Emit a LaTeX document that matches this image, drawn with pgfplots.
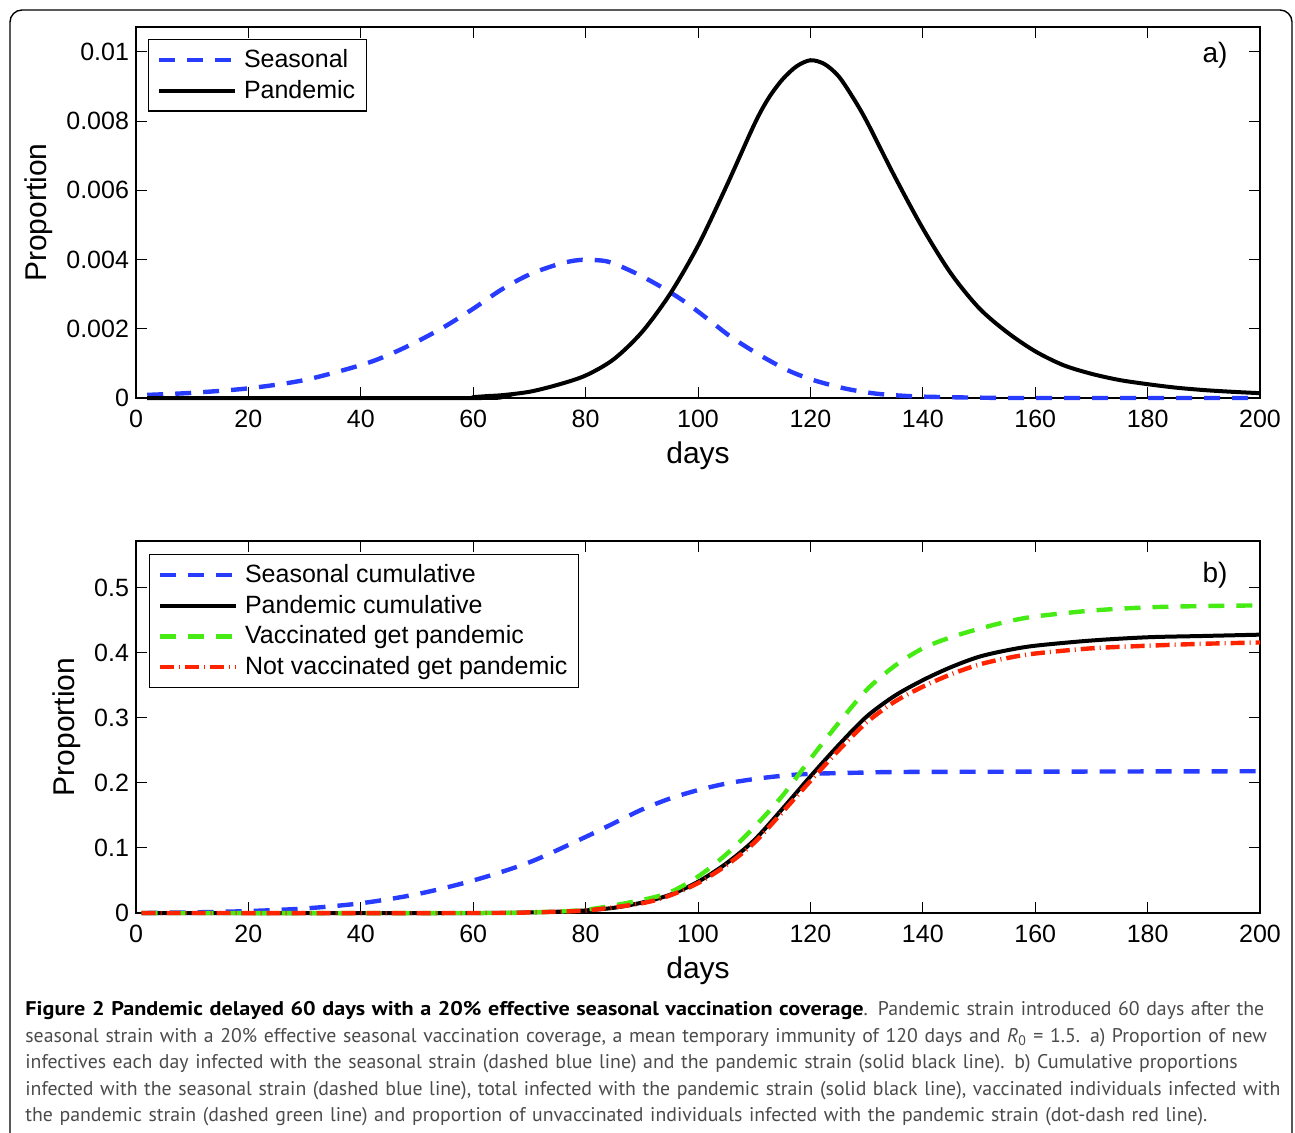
\documentclass[border=0pt]{standalone}
\usepackage{pgfplots}
\pgfplotsset{compat=1.18}
\usepackage{fontspec}
\setmainfont{Liberation Sans}
\newfontfamily\capfont{PT Sans}

\definecolor{mblue}{RGB}{40,60,255}
\definecolor{mgreen}{RGB}{70,235,20}
\definecolor{mred}{RGB}{255,35,0}
\definecolor{capgray}{RGB}{75,75,75}

\pgfplotsset{
  panel/.style={
    scale only axis, width=562pt,
    xmin=0, xmax=200,
    xtick={0,20,...,200},
    xticklabels={0,20,40,60,80,100,120,140,160,180,200},
    scaled y ticks=false,
    tick align=inside, tick pos=both, major tick length=5.5pt,
    axis line style={line width=0.8pt},
    every tick/.style={black, line width=0.5pt},
    tick label style={font=\fontsize{12.5}{15}\selectfont},
    xticklabel style={yshift=-2.5pt},
    label style={font=\fontsize{15}{18}\selectfont},
    xlabel={days}, ylabel={Proportion},
    clip=false,
    legend cell align=left,
    legend style={draw=black, line width=0.6pt, fill=white, anchor=north west,
      font=\fontsize{12.5}{15}\selectfont,
      inner xsep=4pt, inner ysep=2.5pt, nodes={inner xsep=1.5pt, inner ysep=2.4pt}, column sep=2pt},
    legend image code/.code={\draw[##1] (0pt,0pt) -- (38pt,0pt);},
  },
  seas/.style={mblue, line width=2.2pt, dash pattern=on 8pt off 6pt, smooth},
  pand/.style={black, line width=2pt, smooth},
  vacc/.style={mgreen, line width=2.2pt, dash pattern=on 8pt off 6pt, smooth},
  novacc/.style={mred, line width=2.2pt, dash pattern=on 7pt off 2.5pt on 0.5pt off 2.5pt, smooth},
}

\begin{document}
\begin{tikzpicture}
\begin{scope}[x=0.5pt, y=-0.5pt]
  \path[use as bounding box] (0,0) rectangle (1295,1132);
  \draw[line width=0.7pt, rounded corners=6pt] (10,1150) -- (10,10) -- (1292,10) -- (1292,1150);
  \node[anchor=north west, inner sep=0pt, text width=630pt, align=left,
        font=\capfont\fontsize{9.9}{13.25}\selectfont, text=capgray] at (25,1001)
  {{\color{black}\bfseries\addfontfeature{FakeStretch=1.12}Figure 2 Pandemic delayed 60 days with a 20\% effective seasonal vaccination coverage}. Pandemic strain introduced 60 days after the\\
  seasonal strain with a 20\% effective seasonal vaccination coverage, a mean temporary immunity of 120 days and {\itshape R}\textsubscript{0} = 1.5. a) Proportion of new\\
  infectives each day infected with the seasonal strain (dashed blue line) and the pandemic strain (solid black line). b) Cumulative proportions\\
  infected with the seasonal strain (dashed blue line), total infected with the pandemic strain (solid black line), vaccinated individuals infected with\\
  the pandemic strain (dashed green line) and proportion of unvaccinated individuals infected with the pandemic strain (dot-dash red line).};
\end{scope}

% a) new infectives per day
\begin{axis}[panel, at={(68pt,-199pt)}, anchor=south west, height=185.5pt,
    ymin=0, ymax=0.01072,
    ytick={0,0.002,0.004,0.006,0.008,0.01},
    yticklabels={0,0.002,0.004,0.006,0.008,0.01},
    legend style={at={(0.0107,0.968)}}]
\addplot[seas] coordinates {
 (2,0.00009) (10,0.00015) (20,0.00028) (30,0.00052) (40,0.00095) (45,0.00125)
 (50,0.00163) (55,0.00207) (60,0.00258) (65,0.00313) (70,0.00357) (75,0.00386)
 (78,0.00397) (80,0.00399) (84,0.00394) (89,0.0036) (94,0.00316) (98,0.00274)
 (102,0.00225) (106,0.00175) (111,0.00124) (116,0.0008) (120.5,0.00052)
 (126,0.00028) (131,0.00014) (135,0.00008) (140,0.00004) (150,0.00001)
 (160,0) (200,0)
};
\addplot[pand] coordinates {
 (2,0) (61,0) (62,0.00005) (65,0.00008) (70,0.00018) (75,0.00038) (80,0.00065)
 (85,0.00112) (90,0.0019) (95,0.0030) (100,0.0044) (105,0.0061) (110,0.0079)
 (112.5,0.00865) (115,0.0092) (117.5,0.00958) (120,0.00976) (122.5,0.00965)
 (125,0.0093) (127.5,0.0087) (130,0.0080) (135,0.0064) (140,0.0049)
 (145,0.0036) (150,0.0026) (155,0.0019) (160,0.00135) (165,0.00095)
 (170,0.0007) (175,0.00052) (180,0.0004) (185,0.0003) (190,0.00023)
 (195,0.00018) (200,0.00014)
};
\legend{Seasonal, Pandemic}
\node[font=\fontsize{14}{16}\selectfont] at (rel axis cs:0.96,0.925) {a)};
\end{axis}

% b) cumulative proportions
\begin{axis}[panel, at={(68pt,-456.5pt)}, anchor=south west, height=186pt,
    ymin=0, ymax=0.572,
    ytick={0,0.1,0.2,0.3,0.4,0.5},
    yticklabels={0,0.1,0.2,0.3,0.4,0.5},
    legend style={at={(0.0116,0.965)}}]
\addplot[seas] coordinates {
 (1,0) (10,0.001) (20,0.003) (30,0.007) (40,0.015) (50,0.029) (60,0.05)
 (70,0.078) (80,0.117) (85,0.138) (90,0.159) (95,0.176) (100,0.189)
 (105,0.199) (110,0.206) (115,0.211) (120,0.214) (130,0.216) (140,0.217)
 (200,0.218)
};
\addplot[pand] coordinates {
 (1,0) (60,0) (70,0.001) (75,0.002) (80,0.004) (85,0.008) (90,0.016)
 (95,0.028) (100,0.048) (105,0.076) (110,0.112) (115,0.16) (120,0.21)
 (125,0.258) (130,0.302) (135,0.334) (140,0.358) (145,0.378) (150,0.394)
 (155,0.404) (160,0.411) (170,0.419) (180,0.424) (190,0.426) (200,0.428)
};
\addplot[vacc] coordinates {
 (1,0) (60,0) (70,0.001) (80,0.005) (90,0.02) (95,0.032) (100,0.056)
 (105,0.09) (110,0.132) (115,0.18) (120,0.237) (125,0.292) (130,0.343)
 (135,0.38) (140,0.407) (145,0.424) (150,0.437) (155,0.448) (160,0.456)
 (170,0.465) (180,0.47) (190,0.472) (200,0.473)
};
\addplot[novacc] coordinates {
 (1,0) (60,0) (70,0.001) (80,0.004) (90,0.015) (95,0.027) (100,0.046)
 (105,0.073) (110,0.108) (115,0.155) (120,0.203) (125,0.25) (130,0.293)
 (135,0.325) (140,0.348) (145,0.367) (150,0.382) (155,0.392) (160,0.399)
 (170,0.407) (180,0.411) (190,0.414) (200,0.416)
};
\legend{Seasonal cumulative, Pandemic cumulative, Vaccinated get pandemic, Not vaccinated get pandemic}
\node[font=\fontsize{14}{16}\selectfont] at (rel axis cs:0.96,0.909) {b)};
\end{axis}
\end{tikzpicture}
\end{document}
